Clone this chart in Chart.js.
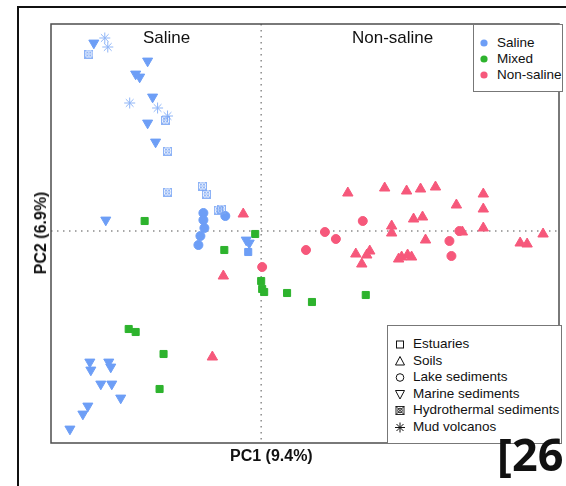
<!DOCTYPE html>
<html>
<head>
<meta charset="utf-8">
<script src="https://cdn.jsdelivr.net/npm/chart.js@4.4.0/dist/chart.umd.min.js"></script>
<style>
body { margin: 0; background: #fff; font-family: "Liberation Sans", Arial, sans-serif; }
#wrap { position: relative; width: 566px; height: 486px; overflow: hidden; }
#pca { position: absolute; left: 0; top: 0; }
.line { position: absolute; background: #111; }
.txt { position: absolute; white-space: nowrap; color: #111; }
.box { position: absolute; background: #fff; border: 1px solid #777; box-sizing: border-box; }
.row { position: absolute; height: 16px; line-height: 16px; white-space: nowrap; color: #111; }
.row svg { position: absolute; left: 0; top: 2px; }
.row span { position: absolute; }
</style>
</head>
<body>
<div id="wrap">
    <canvas id="pca" width="566" height="486"></canvas>
    <div class="line" style="left:17px; top:6px; width:549px; height:2px;"></div>
    <div class="line" style="left:17px; top:6px; width:2px; height:480px;"></div>

    <div class="txt" style="left:143px; top:28px; font-size:17px;">Saline</div>
    <div class="txt" style="left:352px; top:28px; font-size:17px;">Non-saline</div>

    <div class="txt" style="left:230px; top:447px; font-size:16px; font-weight:bold;">PC1 (9.4%)</div>
    <div class="txt" style="left:41px; top:233px; font-size:16px; font-weight:bold; transform: translate(-50%, -50%) rotate(-90deg);">PC2 (6.9%)</div>

    <div class="box" id="groupLegend" style="left:473px; top:24px; width:90px; height:68px;"></div>
    <div class="box" id="typeLegend" style="left:387px; top:325px; width:175px; height:119px;"></div>

    <div class="txt" style="left:497px; top:423px; font-size:45px; font-weight:bold; font-family:'Open Sans', sans-serif;">[26</div>
</div>
<script>
// PCA scores (PC1, PC2)
const salineMarine = [
    [-0.336, 0.376], [-0.228, 0.340], [-0.252, 0.314], [-0.244, 0.308], [-0.218, 0.268],
    [-0.228, 0.216], [-0.212, 0.178], [-0.312, 0.022], [-0.030, -0.018], [-0.024, -0.024],
    [-0.344, -0.262], [-0.342, -0.278], [-0.306, -0.262], [-0.302, -0.272], [-0.322, -0.306],
    [-0.300, -0.306], [-0.282, -0.334], [-0.348, -0.350], [-0.358, -0.366], [-0.384, -0.396],
];
const salineLake = [
    [-0.072, 0.030], [-0.116, 0.036], [-0.116, 0.022], [-0.114, 0.006], [-0.122, -0.010], [-0.126, -0.028],
];
const salineEstuary = [[-0.026, -0.042]];
const salineHydro = [
    [-0.346, 0.354], [-0.192, 0.222], [-0.188, 0.160], [-0.188, 0.078],
    [-0.118, 0.090], [-0.110, 0.074], [-0.086, 0.042], [-0.080, 0.044],
];
const salineMud = [
    [-0.314, 0.386], [-0.308, 0.368], [-0.264, 0.256], [-0.208, 0.246], [-0.188, 0.230],
];
const mixedEstuary = [
    [-0.234, 0.020], [-0.012, -0.006], [-0.074, -0.038], [0.000, -0.100], [0.002, -0.116],
    [0.006, -0.122], [0.052, -0.124], [0.102, -0.142], [0.210, -0.128], [-0.266, -0.196],
    [-0.252, -0.202], [-0.196, -0.246], [-0.204, -0.316],
];
const nonSalineSoil = [
    [-0.036, 0.034], [-0.076, -0.090], [-0.098, -0.252], [0.174, 0.076], [0.248, 0.086],
    [0.292, 0.080], [0.320, 0.084], [0.350, 0.088], [0.446, 0.074], [0.392, 0.052],
    [0.446, 0.044], [0.306, 0.024], [0.324, 0.028], [0.262, 0.010], [0.262, -0.004],
    [0.446, 0.006], [0.404, -0.002], [0.330, -0.018], [0.190, -0.046], [0.218, -0.040],
    [0.212, -0.048], [0.202, -0.066], [0.276, -0.056], [0.282, -0.052], [0.294, -0.048],
    [0.302, -0.052], [0.520, -0.024], [0.534, -0.026], [0.566, -0.006],
];
const nonSalineLake = [
    [0.002, -0.072], [0.204, 0.020], [0.128, -0.002], [0.150, -0.016],
    [0.090, -0.038], [0.398, 0.000], [0.378, -0.020], [0.382, -0.050],
];

const groups = ["Saline", "Mixed", "Non-saline"];
const sampleTypes = ["Estuaries", "Soils", "Lake sediments", "Marine sediments", "Hydrothermal sediments", "Mud volcanos"];

const BLUE = "#6d9ef6";
const GREEN = "#2db32d";
const PINK = "#f6587b";
const LIGHTBLUE = "#8fb5f7";

// crossed square with circle, the hydrothermal marker
function hydroMarker(color, size) {
    const c = document.createElement("canvas");
    c.width = size;
    c.height = size;
    const g = c.getContext("2d");
    g.strokeStyle = color;
    g.lineWidth = 1;
    g.strokeRect(0.5, 0.5, size - 1, size - 1);
    g.beginPath();
    g.moveTo(1, 1); g.lineTo(size - 1, size - 1);
    g.moveTo(size - 1, 1); g.lineTo(1, size - 1);
    g.stroke();
    g.beginPath();
    g.arc(size / 2, size / 2, size / 2 - 2, 0, Math.PI * 2);
    g.stroke();
    return c;
}

const toXY = (arr) => arr.map((p) => ({ x: p[0], y: p[1] }));

function ds(label, data, style, color, extra) {
    return Object.assign({
        label: label,
        data: toXY(data),
        pointStyle: style,
        backgroundColor: color,
        borderColor: color,
        borderWidth: 1,
        pointRadius: 5,
        pointHoverRadius: 5,
    }, extra || {});
}

const refLines = {
    id: "refLines",
    beforeDatasetsDraw(chart) {
        const { ctx, chartArea, scales } = chart;
        const x0 = scales.x.getPixelForValue(0);
        const y0 = scales.y.getPixelForValue(0);
        ctx.save();
        ctx.strokeStyle = "#8c8c8c";
        ctx.lineWidth = 1.5;
        ctx.setLineDash([1.5, 4.5]);
        ctx.beginPath();
        ctx.moveTo(x0, chartArea.top);
        ctx.lineTo(x0, chartArea.bottom);
        ctx.moveTo(chartArea.left, y0);
        ctx.lineTo(chartArea.right, y0);
        ctx.stroke();
        ctx.restore();
    },
    afterDraw(chart) {
        const { ctx, chartArea } = chart;
        ctx.save();
        ctx.strokeStyle = "#4d4d4d";
        ctx.lineWidth = 1.5;
        ctx.strokeRect(chartArea.left, chartArea.top, chartArea.right - chartArea.left, chartArea.bottom - chartArea.top);
        ctx.restore();
    },
};

new Chart(document.getElementById("pca"), {
    type: "scatter",
    data: {
        datasets: [
            ds("Saline - Hydrothermal", salineHydro, hydroMarker("rgba(120,165,245,0.85)", 9), LIGHTBLUE),
            ds("Saline - Mud volcanos", salineMud, "star", LIGHTBLUE, { pointRadius: 5.5 }),
            ds("Saline - Marine", salineMarine, "triangle", BLUE, { pointRotation: 180, pointRadius: 5.8 }),
            ds("Saline - Lake", salineLake, "circle", BLUE, { pointRadius: 4.5 }),
            ds("Saline - Estuaries", salineEstuary, "rect", BLUE, { pointRadius: 5 }),
            ds("Mixed - Estuaries", mixedEstuary, "rect", GREEN, { pointRadius: 5 }),
            ds("Non-saline - Lake", nonSalineLake, "circle", PINK, { pointRadius: 4.5 }),
            ds("Non-saline - Soils", nonSalineSoil, "triangle", PINK, { pointRadius: 6 }),
        ],
    },
    options: {
        responsive: false,
        animation: false,
        layout: { padding: { left: 51, top: 24, right: 5, bottom: 43 } },
        scales: {
            x: { display: false, min: -0.422, max: 0.598 },
            y: { display: false, min: -0.424, max: 0.414 },
        },
        plugins: {
            legend: { display: false },
            tooltip: { enabled: false },
        },
    },
    plugins: [refLines],
});

// legends
const groupColors = [BLUE, GREEN, PINK];
const groupLegend = document.getElementById("groupLegend");
groups.forEach((name, i) => {
    const row = document.createElement("div");
    row.className = "row";
    row.style.left = "5px";
    row.style.top = (10 + i * 16) + "px";
    row.style.fontSize = "13.5px";
    row.innerHTML = '<svg width="10" height="12"><circle cx="5" cy="6" r="3.6" fill="' + groupColors[i] + '"/></svg>' +
        '<span style="left:18px">' + name + "</span>";
    groupLegend.appendChild(row);
});

const typeIcons = [
    '<rect x="2.5" y="3" width="7" height="7" fill="none" stroke="#111"/>',
    '<polygon points="6,1.5 10.5,10 1.5,10" fill="none" stroke="#111"/>',
    '<circle cx="6" cy="6.5" r="3.8" fill="none" stroke="#111"/>',
    '<polygon points="1.5,2.5 10.5,2.5 6,11" fill="none" stroke="#111"/>',
    '<rect x="2" y="2.5" width="8" height="8" fill="none" stroke="#111" stroke-width="0.9"/>' +
        '<path d="M2 2.5 L10 10.5 M10 2.5 L2 10.5" stroke="#111" stroke-width="0.9"/>' +
        '<circle cx="6" cy="6.5" r="2.3" fill="none" stroke="#111" stroke-width="0.9"/>',
    '<path d="M6 1.5 V11.5 M1 6.5 H11 M2.5 3 L9.5 10 M9.5 3 L2.5 10" stroke="#111" stroke-width="1"/>',
];
const typeLegend = document.getElementById("typeLegend");
sampleTypes.forEach((name, i) => {
    const row = document.createElement("div");
    row.className = "row";
    row.style.left = "6px";
    row.style.top = (10 + i * 16.6) + "px";
    row.style.fontSize = "13.5px";
    row.innerHTML = '<svg width="12" height="13">' + typeIcons[i] + "</svg>" +
        '<span style="left:19px">' + name + "</span>";
    typeLegend.appendChild(row);
});
</script>
</body>
</html>
